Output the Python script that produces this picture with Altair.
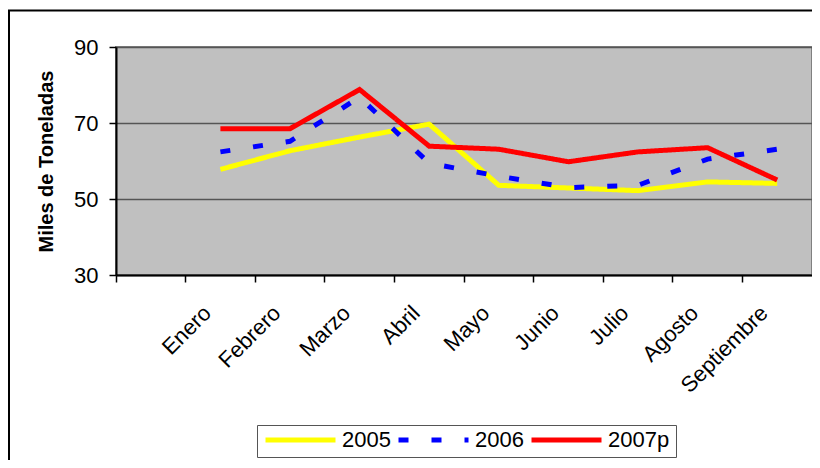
import altair as alt
import pandas as pd

# Categories (first slot is empty in the original chart)
categories = ["", "Enero", "Febrero", "Marzo", "Abril", "Mayo", "Junio", "Julio", "Agosto", "Septiembre"]
months = ["Enero", "Febrero", "Marzo", "Abril", "Mayo", "Junio", "Julio", "Agosto", "Septiembre"]

series_names = ["2005", "2006", "2007p"]
s2005 = [57.8, 62.7, 66.3, 69.7, 53.6, 52.9, 52.2, 54.5, 54.1]
s2006 = [62.4, 65.2, 76.8, 59.4, 56.0, 53.0, 53.6, 60.5, 63.1]
s2007 = [68.5, 68.5, 78.8, 63.9, 63.1, 59.8, 62.4, 63.5, 55.0]

y_ticks = [30, 50, 70, 90]
colors = ["#FFFF00", "#0000FF", "#FF0000"]
dashes = [[1, 0], [10, 23], [1, 0]]

rows = []
for name, vals in zip(series_names, [s2005, s2006, s2007]):
    for m, v in zip(months, vals):
        rows.append({"Mes": m, "Serie": name, "Valor": v})
df = pd.DataFrame(rows)

FONT = "Liberation Sans"

legend_opts = dict(
    title=None,
    orient="none",
    legendX=141,
    legendY=378,
    direction="horizontal",
    columns=3,
    symbolType="stroke",
    symbolSize=4900,
    symbolStrokeWidth=5,
    labelFontSize=22,
    labelFont=FONT,
    labelColor="black",
    labelOffset=4,
    columnPadding=5,
    clipHeight=18,
    padding=6,
    strokeColor="#555555",
    fillColor="white",
)

lines = alt.Chart(df).mark_line(strokeWidth=5, clip=False).encode(
    x=alt.X(
        "Mes:N",
        scale=alt.Scale(type="band", domain=categories, paddingInner=0, paddingOuter=0),
        sort=categories,
        axis=alt.Axis(
            title=None,
            labelAngle=315,
            labelAlign="right",
            labelBaseline="alphabetic",
            labelPadding=32,
            labelOffset=-8,
            labelFont=FONT,
            labelFontSize=22,
            labelColor="black",
            bandPosition=0,
            grid=False,
            labelOverlap=False,
            labelBound=False,
            tickSize=7,
            tickColor="black",
            tickWidth=1.5,
            domainColor="black",
            domainWidth=2,
        ),
    ),
    y=alt.Y(
        "Valor:Q",
        scale=alt.Scale(domain=[30, 90], nice=False, zero=False),
        axis=alt.Axis(
            values=y_ticks,
            title="Miles de Toneladas",
            titleFontSize=20,
            titleFontWeight="bold",
            titleFont=FONT,
            titleColor="black",
            titleAngle=270,
            titleX=-70,
            titleY=114,
            titleAlign="center",
            titleBaseline="middle",
            grid=True,
            gridColor="#555555",
            gridWidth=1.5,
            labelPadding=11,
            labelFont=FONT,
            labelFontSize=22,
            labelColor="black",
            tickSize=7,
            tickColor="black",
            tickWidth=1.5,
            domainColor="black",
            domainWidth=2,
        ),
    ),
    color=alt.Color(
        "Serie:N",
        scale=alt.Scale(domain=series_names, range=colors),
        legend=alt.Legend(**legend_opts),
    ),
    strokeDash=alt.StrokeDash(
        "Serie:N",
        scale=alt.Scale(domain=series_names, range=dashes),
        legend=alt.Legend(**legend_opts),
    ),
)

frame = alt.Chart(alt.Data(values=[{"a": 1}])).mark_rect(
    fill=None, stroke="black", strokeWidth=2, clip=False
).encode(
    x=alt.value(-107), x2=alt.value(1500), y=alt.value(-36.5), y2=alt.value(900)
)

chart = alt.layer(frame, lines).properties(
    width=696,
    height=228,
    background="white",
    autosize=alt.AutoSizeParams(type="none"),
    padding={"left": 108, "top": 39, "right": 0, "bottom": 185},
).configure_view(
    fill="#C0C0C0", stroke="#808080", strokeWidth=2
)

chart.save("out.html", embed_options={"renderer": "svg", "actions": False})
